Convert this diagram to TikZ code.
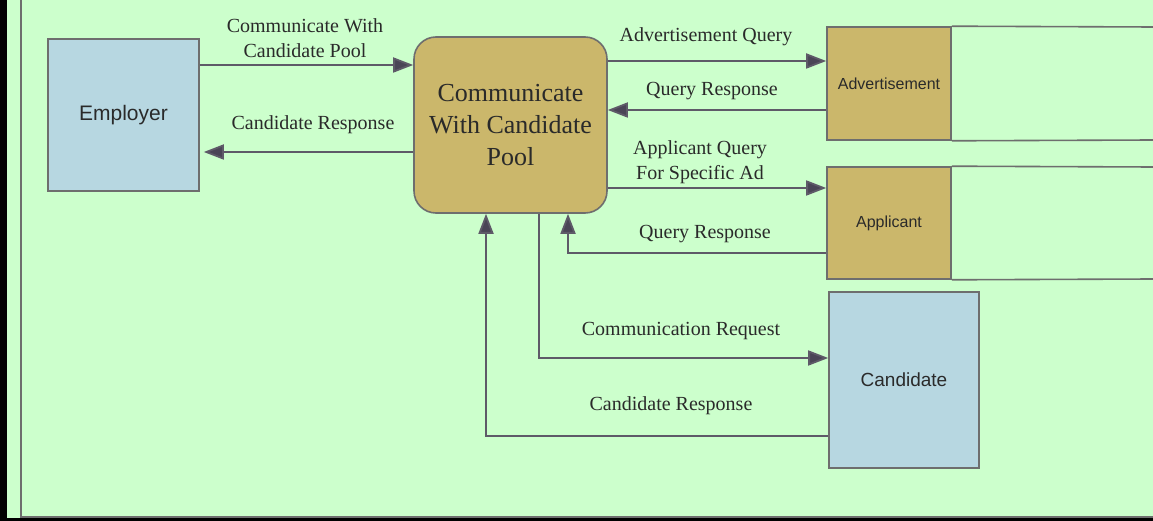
\documentclass[tikz,border=0pt]{standalone}
\usepackage{fontspec}
\setmainfont{Liberation Serif}
\newfontfamily\arialf{Liberation Sans}
\usetikzlibrary{arrows.meta}
\definecolor{bggreen}{HTML}{CCFFCC}
\definecolor{tan}{HTML}{CBB76B}
\definecolor{lblue}{HTML}{B7D7E1}
\definecolor{bord}{HTML}{6E6E6E}
\definecolor{conn}{HTML}{5E5A68}
\definecolor{tipc}{HTML}{4A4556}
\definecolor{txt}{HTML}{2A2A2A}
\begin{document}
\begin{tikzpicture}[x=1pt,y=-1pt,
  entity/.style={draw=bord,line width=1.6pt,fill=lblue,inner sep=0pt,text=txt,font=\arialf\fontsize{21}{25}\selectfont},
  process/.style={draw=bord,line width=1.6pt,fill=tan,rounded corners=22pt,inner sep=0pt,align=center,text=txt,font=\fontsize{26}{32}\selectfont},
  storebox/.style={draw=bord,line width=1.6pt,fill=tan,inner sep=0pt,text=txt,font=\arialf\fontsize{16}{19}\selectfont},
  flow/.style={draw=conn,line width=1.8pt,-{Triangle[length=20pt,width=15pt,fill=tipc]}},
  lbl/.style={align=center,text=txt,font=\fontsize{20}{25}\selectfont,inner sep=0pt}]
\useasboundingbox (0,0) rectangle (1153,521);
\fill[bggreen] (0,0) rectangle (1153,521);
\fill[black] (0,0) rectangle (7,521);
\fill[black] (0,518) rectangle (1153,521);
\draw[bord,line width=2pt] (21,0) -- (21,517) -- (1153,517);

\node[entity,minimum width=151pt,minimum height=152pt] (emp) at (123.5,115) {Employer};
\node[process,minimum width=193pt,minimum height=176pt] (pool) at (510.5,125) {Communicate\\With Candidate\\Pool};
\node[storebox,minimum width=124pt,minimum height=113pt] (adv) at (889,83.5) {Advertisement};
\node[storebox,minimum width=124pt,minimum height=112pt] (app) at (889,223) {Applicant};
\node[entity,minimum width=150pt,minimum height=176pt,font=\arialf\fontsize{19}{23}\selectfont] (cand) at (904,380) {Candidate};

\draw[bord,line width=1.6pt] (adv.north east) -- (1153,27);
\draw[bord,line width=1.6pt] (adv.south east) -- (1153,140);
\draw[bord,line width=1.6pt] (app.north east) -- (1153,167);
\draw[bord,line width=1.6pt] (app.south east) -- (1153,279);

\draw[flow] (emp.east |- 0,65) -- (pool.west |- 0,65);
\draw[flow,shorten >=4pt] (pool.west |- 0,152) -- (emp.east |- 0,152);
\draw[flow] (pool.east |- 0,61) -- (adv.west |- 0,61);
\draw[flow] (adv.west |- 0,110) -- (pool.east |- 0,110);
\draw[flow] (pool.east |- 0,188) -- (app.west |- 0,188);
\draw[flow] (app.west |- 0,253) -| (pool.south -| 568,0);
\draw[flow] (pool.south -| 539,0) |- (cand.west |- 0,358);
\draw[flow] (cand.west |- 0,436) -| (pool.south -| 486,0);

\node[lbl] (l1) at (305,38) {Communicate With\\Candidate Pool};
\node[lbl] (l2) at (313,125) {Candidate Response};
\node[lbl] (l3) at (706,37) {Advertisement Query};
\node[lbl] (l4) at (712,91) {Query Response};
\node[lbl] (l5) at (700,162) {Applicant Query\\For Specific Ad};
\node[lbl] (l6) at (705,234) {Query Response};
\node[lbl] (l7) at (681,331) {Communication Request};
\node[lbl] (l8) at (671,406) {Candidate Response};
\end{tikzpicture}
\end{document}
